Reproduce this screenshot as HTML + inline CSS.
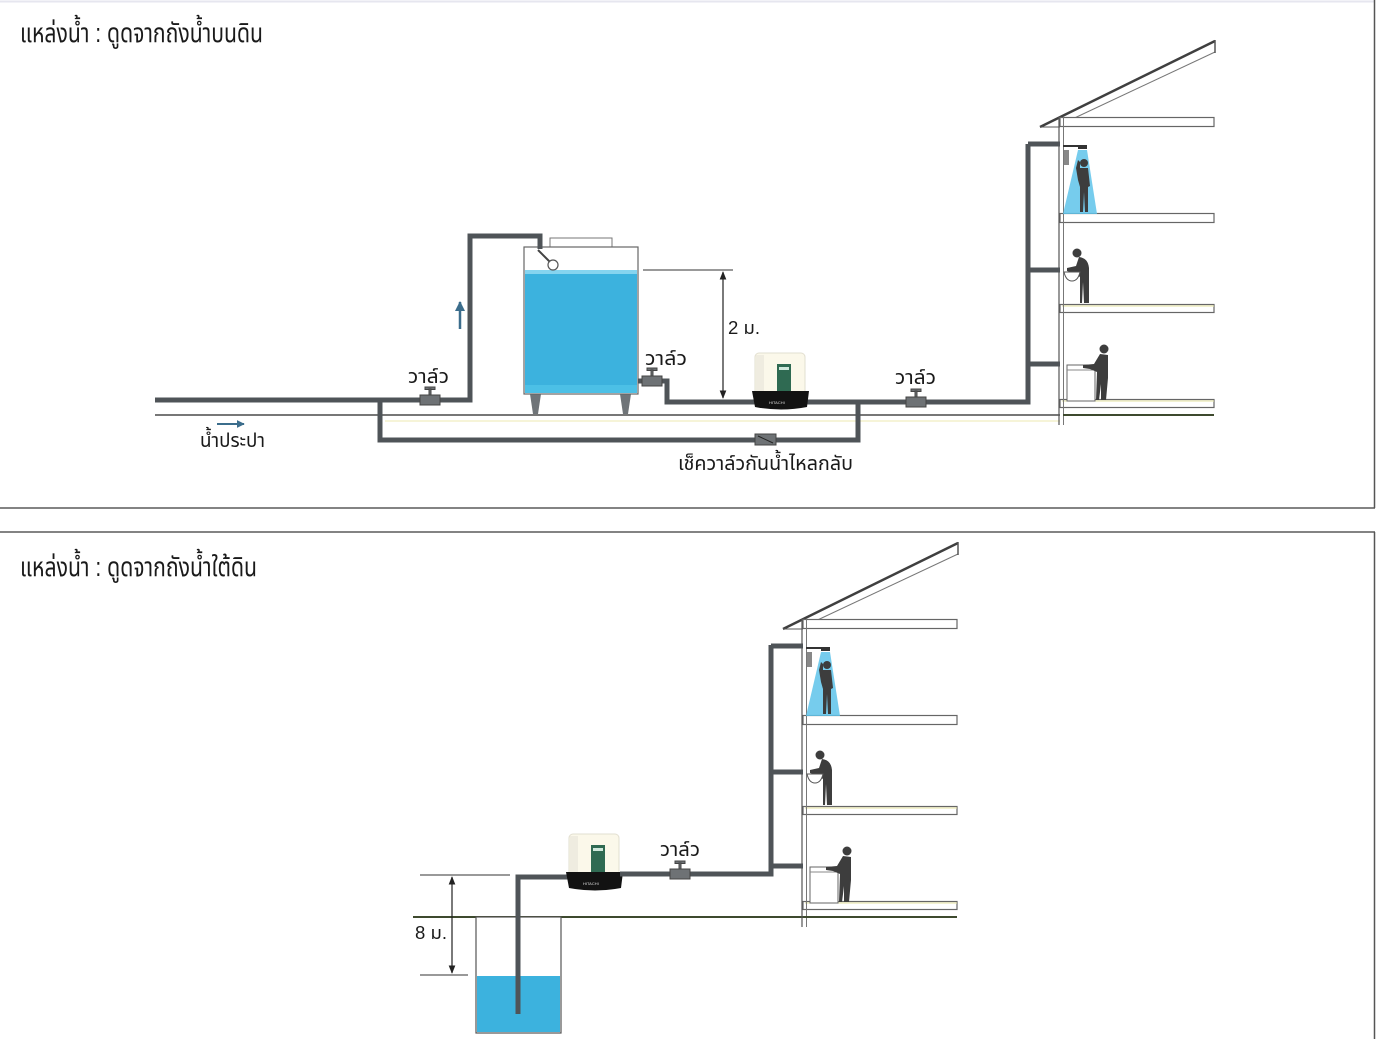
<!DOCTYPE html>
<html><head><meta charset="utf-8">
<style>
html,body{margin:0;padding:0;background:#fff;}
svg{display:block;}
text{font-family:"Liberation Sans","Noto Sans Thai","Loma","Garuda","Tlwg Typo","DejaVu Sans",sans-serif;fill:#1a1a1a;}
.p{stroke:#4f5458;stroke-width:5;fill:none;stroke-linejoin:miter;stroke-linecap:butt;}
</style></head>
<body>
<svg width="1376" height="1039" viewBox="0 0 1376 1039" xmlns="http://www.w3.org/2000/svg">
<rect width="1376" height="1039" fill="#fff"/>
<defs>
<marker id="ah" viewBox="0 0 10 10" refX="9" refY="5" markerWidth="7" markerHeight="7" orient="auto-start-reverse"><path d="M0 1 L10 5 L0 9 Z" fill="#222"/></marker>
<marker id="ab" viewBox="0 0 10 10" refX="9" refY="5" markerWidth="4" markerHeight="4" orient="auto"><path d="M0 0 L10 5 L0 10 Z" fill="#3b6d8c"/></marker>
<g id="pump">
  <rect x="0" y="0" width="50" height="44" rx="4" fill="#fbf8ea" stroke="#e2dfd0"/>
  <rect x="1" y="2" width="8" height="40" fill="#efece0"/>
  <rect x="22" y="11" width="14" height="30" fill="#2f6a52"/>
  <rect x="24" y="14" width="10" height="3" fill="#cfe8dc"/>
  <path d="M-3 38 H54 L52 54 Q26 59 0 54 Z" fill="#121212"/>
  <text x="14" y="51" font-size="4" fill="#ddd" style="fill:#ddd">HITACHI</text>
</g>
<g id="house">
  <!-- roof -->
  <line x1="1040" y1="127" x2="1215" y2="41" stroke="#3f3f3f" stroke-width="2.5"/>
  <line x1="1066" y1="122" x2="1215" y2="52" stroke="#777" stroke-width="1"/>
  <line x1="1215" y1="40" x2="1215" y2="53" stroke="#555" stroke-width="1.5"/>
  <line x1="1040" y1="127" x2="1060" y2="127" stroke="#555" stroke-width="1"/>
  <!-- slabs -->
  <rect x="1060" y="117.5" width="154" height="9" fill="#fff" stroke="#666" stroke-width="1.2"/>
  <rect x="1060" y="213.5" width="154" height="9" fill="#fff" stroke="#666" stroke-width="1.2"/>
  <rect x="1060" y="304.5" width="154" height="8" fill="#fff" stroke="#666" stroke-width="1.2"/>
  <rect x="1060" y="399.5" width="154" height="8" fill="#fff" stroke="#666" stroke-width="1.2"/>
  <line x1="1062" y1="306" x2="1214" y2="306" stroke="#e6e3a0" stroke-width="1"/>
  <line x1="1062" y1="401" x2="1214" y2="401" stroke="#e6e3a0" stroke-width="1"/>
  <!-- wall -->
  <line x1="1059" y1="117" x2="1059" y2="425" stroke="#555" stroke-width="1.2"/>
  <line x1="1063.5" y1="117" x2="1063.5" y2="425" stroke="#777" stroke-width="1"/>
  <!-- ground inside -->
  <line x1="1063" y1="415" x2="1214" y2="415" stroke="#3e4a2e" stroke-width="2"/>
  <!-- branch pipes -->
  <path class="p" d="M1028 144 H1060"/>
  <path class="p" d="M1028 270 H1060"/>
  <path class="p" d="M1028 364 H1060"/>
  <!-- shower -->
  <line x1="1063" y1="146" x2="1082" y2="146" stroke="#333" stroke-width="2"/>
  <rect x="1078" y="145" width="9" height="4" fill="#333"/>
  <rect x="1064" y="150" width="5" height="15" fill="#888"/>
  <polygon points="1078,150 1087,150 1097,214 1063,214" fill="#5ec3ea" opacity="0.85"/>
  <circle cx="1084" cy="163" r="4" fill="#3d3d3d"/>
  <path d="M1080 168 L1088 168 L1090 186 L1088 187 L1088 212 L1085 212 L1084 192 L1083 212 L1080 212 L1080 187 L1078 180 L1076 168 L1078 160 L1080 162 Z" fill="#3d3d3d"/>
  <!-- washing person -->
  <circle cx="1077" cy="253" r="4.5" fill="#3d3d3d"/>
  <path d="M1079 257 Q1088 258 1089 268 L1089 303 L1084 303 L1083 282 L1082 303 L1080 303 L1080 277 L1074 273 L1067 271 L1067 268 L1076 266 Z" fill="#3d3d3d"/>
  <path d="M1064 272 H1080 Q1078 281 1072 281 Q1066 281 1064 272 Z" fill="#fff" stroke="#555" stroke-width="1"/>
  <!-- laundry -->
  <rect x="1067" y="365" width="28" height="36" fill="#fff" stroke="#666" stroke-width="1"/>
  <line x1="1067" y1="370" x2="1095" y2="370" stroke="#888" stroke-width="1"/>
  <circle cx="1104" cy="349" r="4.5" fill="#3d3d3d"/>
  <path d="M1100 354 L1108 355 L1108 378 L1106 400 L1101 400 L1101 384 L1099 400 L1096 400 L1097 372 L1090 369 L1083 368 L1083 365 L1094 364 Z" fill="#3d3d3d"/>
</g>
</defs>

<!-- panel borders -->
<line x1="0" y1="1.5" x2="1374" y2="1.5" stroke="#e6e6ef" stroke-width="2"/>
<line x1="0" y1="508" x2="1375" y2="508" stroke="#5a5a5a" stroke-width="1.5"/>
<line x1="1374.5" y1="0" x2="1374.5" y2="508" stroke="#555" stroke-width="1.5"/>
<line x1="0" y1="532" x2="1375" y2="532" stroke="#5a5a5a" stroke-width="1.5"/>
<line x1="1374.5" y1="532" x2="1374.5" y2="1039" stroke="#555" stroke-width="1.5"/>

<!-- ===== TOP PANEL ===== -->
<text x="20" y="42" font-size="27" textLength="243" lengthAdjust="spacingAndGlyphs">แหล่งน้ำ : ดูดจากถังน้ำบนดิน</text>

<!-- ground -->
<line x1="155" y1="415" x2="1060" y2="415" stroke="#4a4a4a" stroke-width="1.5"/>
<line x1="385" y1="421" x2="1060" y2="421" stroke="#eeeab0" stroke-width="1"/>

<!-- tank -->
<rect x="550" y="238" width="62" height="9" fill="#fff" stroke="#777" stroke-width="1"/>
<polygon points="530,394 541,394 538,414 533,414" fill="#6f7478"/>
<polygon points="620,394 631,394 628,414 623,414" fill="#6f7478"/>
<rect x="524" y="247" width="114" height="147" fill="#fff" stroke="#666" stroke-width="1.2"/>
<rect x="525" y="270" width="112" height="123" fill="#3cb2de"/>
<rect x="525" y="270" width="112" height="4" fill="#86d4ef"/>
<rect x="525" y="385" width="112" height="8" fill="#4cc0e6"/>

<!-- pipes -->
<path class="p" d="M155 400 H470 V236 H540 V249"/>
<line x1="538" y1="250" x2="550" y2="262" stroke="#444" stroke-width="2"/>
<circle cx="553" cy="265" r="5" fill="#fff" stroke="#555" stroke-width="1.2"/>
<path class="p" d="M380 400 V440 H858 V402"/>
<path class="p" d="M638 381 H667 V402 H1028 V144"/>

<!-- valves -->
<g fill="#6e7275" stroke="#444" stroke-width="1">
  <rect x="420" y="395" width="20" height="10"/>
  <rect x="425" y="387" width="10" height="2.5"/>
  <rect x="429" y="389" width="2" height="6"/>
  <rect x="642" y="376" width="20" height="10"/>
  <rect x="647" y="368" width="10" height="2.5"/>
  <rect x="651" y="370" width="2" height="6"/>
  <rect x="906" y="397" width="20" height="10"/>
  <rect x="911" y="389" width="10" height="2.5"/>
  <rect x="915" y="391" width="2" height="6"/>
  <rect x="755" y="434" width="21" height="11"/>
</g>
<line x1="758" y1="436" x2="773" y2="443" stroke="#222" stroke-width="1"/>

<!-- pump top -->
<use href="#pump" transform="translate(755,353)"/>

<!-- arrows -->
<line x1="460" y1="329" x2="460" y2="302" stroke="#3b6d8c" stroke-width="2.5" marker-end="url(#ab)"/>
<line x1="217" y1="424" x2="244" y2="424" stroke="#3b6d8c" stroke-width="2" marker-end="url(#ab)"/>

<!-- dimension 2m -->
<line x1="643" y1="270" x2="733" y2="270" stroke="#333" stroke-width="1"/>
<line x1="723" y1="272" x2="723" y2="398" stroke="#222" stroke-width="1.2" marker-start="url(#ah)" marker-end="url(#ah)"/>
<text x="728" y="334" font-size="18" textLength="32" lengthAdjust="spacingAndGlyphs">2 ม.</text>

<!-- labels -->
<text x="408" y="383" font-size="20" textLength="41" lengthAdjust="spacingAndGlyphs">วาล์ว</text>
<text x="645" y="365" font-size="20" textLength="42" lengthAdjust="spacingAndGlyphs">วาล์ว</text>
<text x="895" y="384" font-size="20" textLength="41" lengthAdjust="spacingAndGlyphs">วาล์ว</text>
<text x="200" y="447" font-size="20" textLength="65" lengthAdjust="spacingAndGlyphs">น้ำประปา</text>
<text x="678" y="470" font-size="20" textLength="175" lengthAdjust="spacingAndGlyphs">เช็ควาล์วกันน้ำไหลกลับ</text>

<use href="#house"/>

<!-- ===== BOTTOM PANEL ===== -->
<text x="20" y="576" font-size="27" textLength="237" lengthAdjust="spacingAndGlyphs">แหล่งน้ำ : ดูดจากถังน้ำใต้ดิน</text>

<line x1="413" y1="917" x2="806" y2="917" stroke="#3e4a2e" stroke-width="2"/>

<!-- well -->
<rect x="476" y="917" width="85" height="116" fill="#fff" stroke="#555" stroke-width="1.2"/>
<rect x="477" y="976" width="83" height="56" fill="#3cb2de"/>
<path class="p" d="M518 1014 V877 H570"/>

<!-- dimension 8m -->
<line x1="420" y1="875" x2="510" y2="875" stroke="#333" stroke-width="1"/>
<line x1="420" y1="975" x2="468" y2="975" stroke="#333" stroke-width="1"/>
<line x1="452" y1="877" x2="452" y2="973" stroke="#222" stroke-width="1.2" marker-start="url(#ah)" marker-end="url(#ah)"/>
<text x="415" y="939" font-size="18" textLength="32" lengthAdjust="spacingAndGlyphs">8 ม.</text>

<!-- pump bottom -->
<use href="#pump" transform="translate(569,834)"/>
<path class="p" d="M620 874 H771 V645"/>
<g fill="#6e7275" stroke="#444" stroke-width="1">
  <rect x="670" y="869" width="20" height="10"/>
  <rect x="675" y="861" width="10" height="2.5"/>
  <rect x="679" y="863" width="2" height="6"/>
</g>
<text x="660" y="856" font-size="20" textLength="40" lengthAdjust="spacingAndGlyphs">วาล์ว</text>

<use href="#house" transform="translate(-257,502)"/>
</svg>
</body></html>
